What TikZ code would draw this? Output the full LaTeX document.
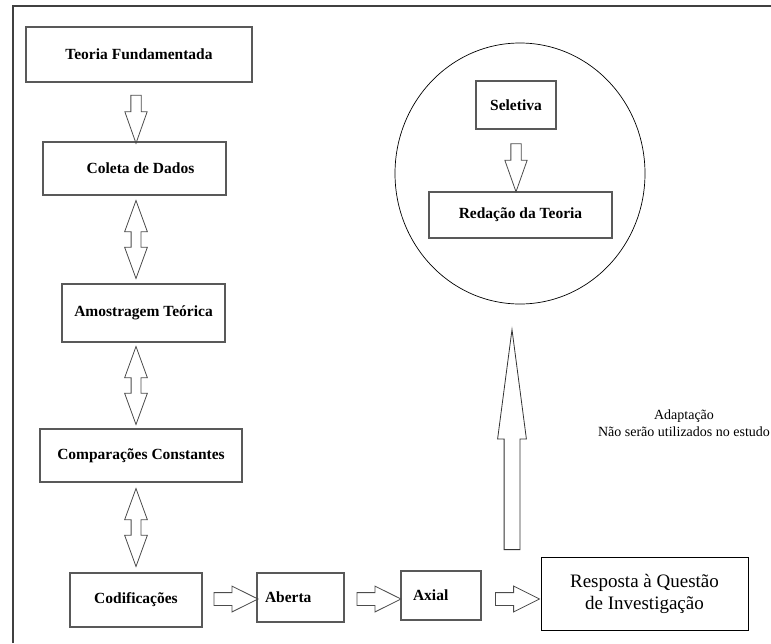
\documentclass[tikz,border=0pt]{standalone}
\usepackage{fontspec}
\setmainfont{Liberation Serif}
\usetikzlibrary{shapes.arrows, shapes.geometric, calc}

\tikzset{
	box/.style={draw=black!65, line width=1.2pt, inner sep=0pt, font=\bfseries\fontsize{15.5}{17}\selectfont},
	sarrow/.style={single arrow, draw=black!70, line width=0.8pt, minimum width=0pt},
	darrow/.style={double arrow, draw=black!70, line width=0.8pt, minimum width=0pt},
	downarrow/.style={sarrow, inner sep=4.75pt, shape border rotate=270, minimum height=48pt, single arrow head extend=6pt, single arrow tip angle=39},
	rightarrow/.style={sarrow, inner sep=6pt, minimum height=44pt, single arrow head extend=6.5pt, single arrow tip angle=53},
	updown/.style={darrow, inner sep=4.5pt, shape border rotate=90, minimum height=78pt, double arrow head extend=6.5pt, double arrow tip angle=40},
	bigup/.style={sarrow, draw=black!80, inner sep=7.5pt, shape border rotate=90, minimum height=220pt, single arrow head extend=6.5pt, single arrow tip angle=15}
}

\begin{document}
\begin{tikzpicture}[x=1pt, y=-1pt]
	\useasboundingbox (0,0) rectangle (771,643);
	% Frame (top and left only):
	\draw[line width=2pt, black!75] (13,643) -- (13,6) -- (771,6);

	% Left column:
	\coordinate (col) at (136,0);
	\node[box, minimum width=226pt, minimum height=55pt] (tf) at (139,54.5) {Teoria Fundamentada};
	\node[box, minimum width=183pt, minimum height=53pt] (cd) at (134.5,168.5) {\hspace*{12pt}Coleta de Dados};
	\node[box, minimum width=163pt, minimum height=58pt] (at) at (143.5,313) {Amostragem Teórica};
	\node[box, minimum width=202pt, minimum height=53pt] (cc) at (141,455.5) {Comparações Constantes};
	\node[box, minimum width=132pt, minimum height=54pt] (cod) at (136,600) {Codificações};

	\path (tf.south -| col) -- node[downarrow] {} (cd.north -| col);
	\path (cd.south -| col) -- node[updown] {} (at.north -| col);
	\path (at.south -| col) -- node[updown] {} (cc.north -| col);
	\path (cc.south -| col) -- node[updown] {} (cod.north -| col);

	% Bottom row:
	\coordinate (row) at (0,599);
	\node[box, minimum width=87pt, minimum height=49pt, text width=71pt, inner xsep=8pt, align=left] (ab) at (300.5,597.5) {Aberta};
	\node[box, minimum width=80pt, minimum height=49pt, text width=56pt, inner xsep=12pt, align=left] (ax) at (441,595.5) {Axial};
	\node[draw, line width=0.9pt, minimum width=207pt, minimum height=73pt, align=center, font=\fontsize{19}{22}\selectfont] (resp) at (644.5,593.5) {Resposta à Questão\\de Investigação};

	\path (cod.east |- row) -- node[rightarrow] {} (ab.west |- row);
	\path (ab.east |- row) -- node[rightarrow] {} (ax.west |- row);
	\path (ax.east |- row) -- node[rightarrow] {} (resp.west |- row);

	% Circle with the last steps:
	\node[ellipse, draw, line width=0.7pt, minimum width=250pt, minimum height=261pt] (circ) at (520,173.5) {};
	\node[box, minimum width=80pt, minimum height=48pt] (sel) at (516,105) {Seletiva};
	\node[box, minimum width=183pt, minimum height=46pt] (red) at (520.5,215) {Redação da Teoria};
	\path (sel.south) -- node[downarrow] {} (sel.south |- red.north);

	% Upward arrow and note:
	\coordinate (base) at (512,550);
	\node[bigup, anchor=tail] (up) at (base) {};
	\node[align=center, font=\fontsize{14}{17}\selectfont] (note) at (684,423) {Adaptação\\Não serão utilizados no estudo};
\end{tikzpicture}
\end{document}
